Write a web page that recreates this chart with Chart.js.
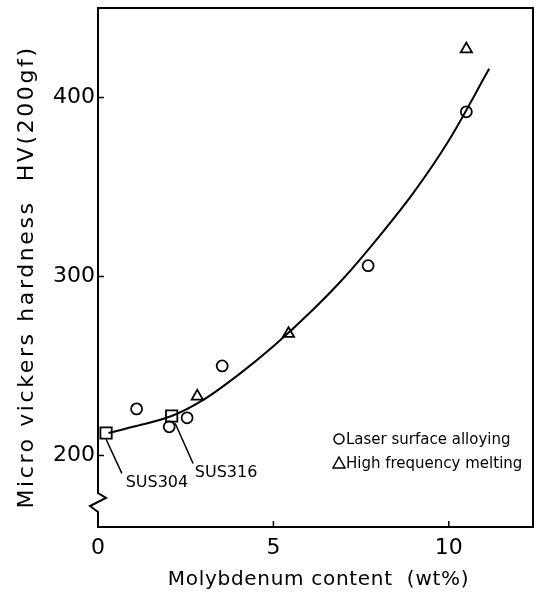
<!DOCTYPE html>
<html>
<head>
<meta charset="utf-8">
<script src="https://cdn.jsdelivr.net/npm/chart.js@4.4.0/dist/chart.umd.min.js"></script>
<style>
  html, body { margin: 0; padding: 0; background: #fff; }
  #wrap { width: 536px; height: 601px; }
</style>
</head>
<body>
<div id="wrap"><canvas id="chart"></canvas></div>
<script>
// axis ticks
const xTicks = [0, 5, 10];
const yTicks = [200, 300, 400];

// Laser surface alloying (circles)
const laserX = [1.1, 2.03, 2.54, 3.54, 7.7, 10.5];
const laserY = [226, 216, 221, 250, 306, 392];

// High frequency melting (triangles)
const meltX = [2.83, 5.43, 10.5];
const meltY = [233, 268, 427];

// base steels (squares)
const susNames = ['SUS304', 'SUS316'];
const susX = [0.23, 2.1];
const susY = [212.5, 222];
const susLabelX = [1.68, 3.65];
const susLabelY = [184.5, 190];
// callout line: from near the square to near the label
const calloutX = [[0.23, 0.68], [2.2, 2.71]];
const calloutY = [[209, 190], [218, 195.5]];

// fitted curve
const fitX = [0.3, 1, 2.1, 3, 4, 5, 6, 7, 8, 9, 10, 11.15];
const fitY = [212.5, 216, 222, 231, 245, 261, 279, 299, 322, 347, 376, 416];

const xTitle = 'Molybdenum content  (wt%)';
const yTitle = 'Micro vickers hardness  HV(200gf)';

const toPts = (xs, ys) => xs.map((x, i) => ({ x: x, y: ys[i] }));

const FONT = '"DejaVu Sans", sans-serif';

const framePlugin = {
  id: 'frame',
  afterDraw(chart) {
    const { ctx, chartArea: a, scales } = chart;
    const xs = scales.x, ys = scales.y;
    ctx.save();
    ctx.strokeStyle = '#000';
    ctx.lineWidth = 2;
    ctx.lineJoin = 'miter';
    // frame with axis break on the left side
    ctx.beginPath();
    ctx.moveTo(a.left, a.bottom);
    ctx.lineTo(a.left, a.bottom - 15);
    ctx.lineTo(a.left - 8, a.bottom - 21);
    ctx.lineTo(a.left + 8, a.bottom - 29);
    ctx.lineTo(a.left, a.bottom - 34);
    ctx.lineTo(a.left, a.top);
    ctx.lineTo(a.right, a.top);
    ctx.lineTo(a.right, a.bottom);
    ctx.closePath();
    ctx.stroke();
    // inward ticks
    ctx.lineWidth = 1.5;
    ctx.beginPath();
    xTicks.forEach(v => {
      const px = xs.getPixelForValue(v);
      ctx.moveTo(px, a.bottom);
      ctx.lineTo(px, a.bottom - 6);
    });
    yTicks.forEach(v => {
      const py = ys.getPixelForValue(v);
      ctx.moveTo(a.left, py);
      ctx.lineTo(a.left + 6, py);
    });
    ctx.stroke();

    // labels for the squares
    ctx.fillStyle = '#000';
    ctx.font = '16px ' + FONT;
    ctx.textAlign = 'center';
    ctx.textBaseline = 'middle';
    susNames.forEach((n, i) => {
      ctx.fillText(n, xs.getPixelForValue(susLabelX[i]), ys.getPixelForValue(susLabelY[i]));
    });

    // legend
    const lx = a.right - 194, ly1 = a.bottom - 88, ly2 = a.bottom - 64;
    ctx.lineWidth = 1.5;
    ctx.beginPath();
    ctx.arc(lx, ly1, 5, 0, Math.PI * 2);
    ctx.stroke();
    ctx.beginPath();
    ctx.moveTo(lx, ly2 - 6);
    ctx.lineTo(lx + 6, ly2 + 5);
    ctx.lineTo(lx - 6, ly2 + 5);
    ctx.closePath();
    ctx.stroke();
    ctx.font = '15px ' + FONT;
    ctx.textAlign = 'left';
    ctx.fillText('Laser surface alloying', lx + 7, ly1 + 1);
    ctx.fillText('High frequency melting', lx + 7, ly2 + 1);

    // axis titles, spaced out like the plotter lettering
    ctx.textAlign = 'center';
    ctx.font = '20px ' + FONT;
    ctx.letterSpacing = '0.7px';
    ctx.fillText(xTitle, (a.left + a.right) / 2 + 3, 580);
    ctx.font = '22px ' + FONT;
    ctx.letterSpacing = '2.6px';
    ctx.translate(27, 277);
    ctx.rotate(-Math.PI / 2);
    ctx.fillText(yTitle, 0, 0);
    ctx.restore();
  }
};

const markerStyle = {
  showLine: false,
  borderColor: '#000',
  backgroundColor: 'rgba(0,0,0,0)',
  borderWidth: 1.8
};

const datasets = [
  {
    type: 'line',
    label: 'fit',
    data: toPts(fitX, fitY),
    borderColor: '#000',
    borderWidth: 2,
    pointRadius: 0,
    cubicInterpolationMode: 'monotone',
    fill: false
  },
  ...calloutX.map((cx, i) => ({
    type: 'line',
    label: 'callout' + i,
    data: toPts(cx, calloutY[i]),
    borderColor: '#000',
    borderWidth: 1.5,
    pointRadius: 0,
    fill: false
  })),
  { ...markerStyle, label: 'Laser surface alloying', data: toPts(laserX, laserY), pointStyle: 'circle', pointRadius: 5.5 },
  { ...markerStyle, label: 'High frequency melting', data: toPts(meltX, meltY), pointStyle: 'triangle', pointRadius: 6.5 },
  { ...markerStyle, label: 'SUS', data: toPts(susX, susY), pointStyle: 'rect', pointRadius: 8, backgroundColor: '#fff' }
];

new Chart(document.getElementById('chart'), {
  type: 'scatter',
  data: { datasets },
  options: {
    responsive: true,
    maintainAspectRatio: false,
    animation: false,
    devicePixelRatio: 1,
    layout: { autoPadding: false, padding: { left: 0, top: 8, right: 3, bottom: 0 } },
    plugins: { legend: { display: false }, tooltip: { enabled: false } },
    scales: {
      x: {
        type: 'linear',
        min: 0,
        max: 12.4,
        afterFit: s => { s.height = 74; s.paddingLeft = 0; s.paddingRight = 0; },
        afterBuildTicks: s => { s.ticks = xTicks.map(v => ({ value: v })); },
        grid: { display: false, drawTicks: false },
        border: { display: false },
        ticks: { color: '#000', font: { family: FONT, size: 22 }, padding: 8, maxRotation: 0 }
      },
      y: {
        type: 'linear',
        min: 160,
        max: 450,
        afterFit: s => { s.width = 98; s.paddingTop = 0; s.paddingBottom = 0; },
        afterBuildTicks: s => { s.ticks = yTicks.map(v => ({ value: v })); },
        grid: { display: false, drawTicks: false },
        border: { display: false },
        ticks: { color: '#000', font: { family: FONT, size: 22 }, padding: 3 }
      }
    }
  },
  plugins: [framePlugin]
});
</script>
</body>
</html>
